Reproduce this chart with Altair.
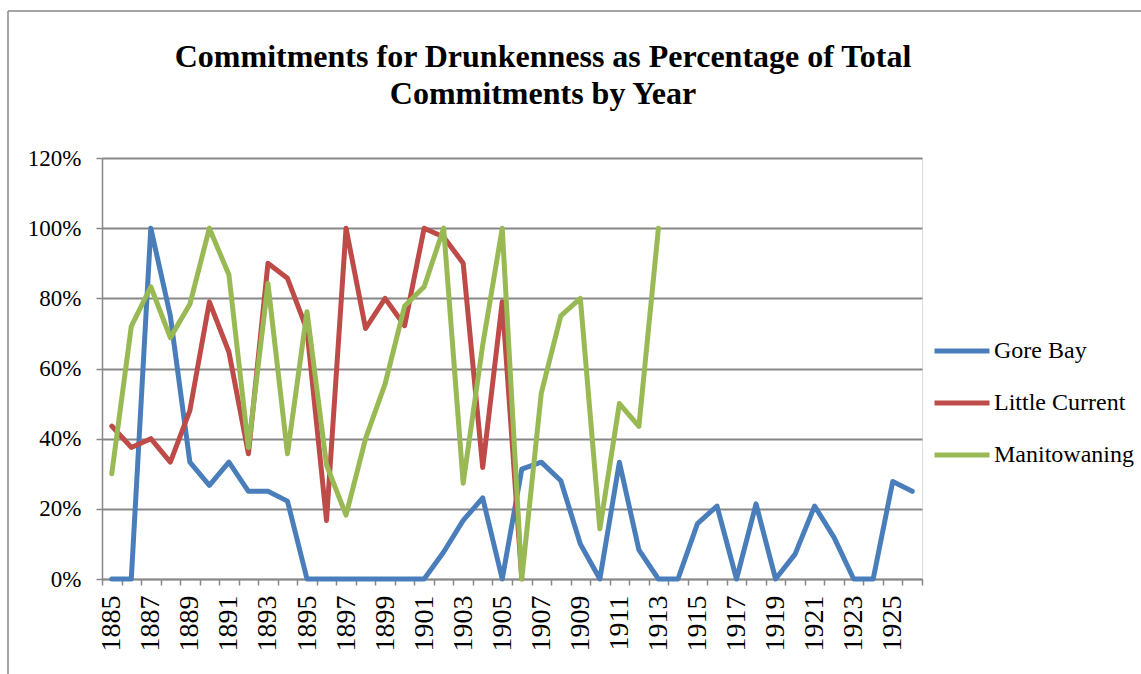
import altair as alt
import pandas as pd

years = list(range(1885, 1927))

gore_bay = [0, 0, 100, 75, 33.3, 26.7, 33.3, 25, 25, 22.2, 0, 0, 0, 0, 0, 0, 0, 7.7, 16.7, 23.1,
            0, 31.3, 33.3, 28, 10, 0, 33.3, 8.3, 0, 0, 15.8, 20.8, 0, 21.4, 0, 7.1, 20.8, 11.8,
            0, 0, 27.8, 25]
little_current = [43.6, 37.5, 40, 33.3, 48, 79, 64.7, 35.7, 90, 85.7, 71, 16.7, 100, 71.4, 80,
                  72.2, 100, 97.5, 90, 31.8, 79, 0]
manitowaning = [30, 72, 83.3, 68.8, 78.3, 100, 86.7, 37.5, 84.2, 35.7, 76.2, 32.5, 18.2, 40,
                55.6, 77.8, 83.3, 100, 27.3, 66.7, 100, 0, 53, 75, 80, 14.3, 50, 43.5, 100]

series = ["Gore Bay", "Little Current", "Manitowaning"]
colors = ["#4a7ebb", "#be4b48", "#98b954"]

rows = []
for name, vals in zip(series, [gore_bay, little_current, manitowaning]):
    for y, v in zip(years, vals):
        rows.append({"year": y, "series": name, "value": v / 100.0})
df = pd.DataFrame(rows)

GRAY = "#878787"
FONT = "Liberation Serif"

lines = alt.Chart(df).mark_line(strokeWidth=5, strokeJoin="round", strokeCap="round").encode(
    x=alt.X("year:O",
            scale=alt.Scale(type="band", paddingInner=0, paddingOuter=0, domain=years),
            bandPosition=0.5,
            axis=alt.Axis(title=None, tickBand="extent", labelAngle=270,
                          labelExpr="(toNumber(datum.value) - 1885) % 2 == 0 ? datum.label : ''",
                          labelFont=FONT, labelFontSize=28, labelColor="black",
                          labelPadding=10, tickSize=6, tickColor=GRAY, tickWidth=1.5,
                          domainColor=GRAY, domainWidth=1.5, grid=False)),
    y=alt.Y("value:Q",
            scale=alt.Scale(domain=[0, 1.2], nice=False),
            axis=alt.Axis(title=None, values=[0, 0.2, 0.4, 0.6, 0.8, 1.0, 1.2], format=".0%",
                          labelFont=FONT, labelFontSize=23, labelColor="black",
                          labelPadding=15, tickSize=6, tickColor=GRAY, tickWidth=1.5,
                          domainColor=GRAY, domainWidth=1.5,
                          gridColor=GRAY, gridWidth=2)),
    color=alt.Color("series:N",
                    scale=alt.Scale(domain=series, range=colors),
                    legend=alt.Legend(title=None, orient="none", legendX=830, legendY=163,
                                      symbolType="stroke", symbolSize=3025,
                                      symbolStrokeWidth=5, labelFont=FONT,
                                      labelFontSize=24, labelColor="black",
                                      labelOffset=2, rowPadding=10)),
)

frame_df = pd.DataFrame({"k": [0]})
frame_v = alt.Chart(frame_df).mark_rule(color=GRAY, strokeWidth=1.5).encode(
    x=alt.value(-94), y=alt.value(-147), y2=alt.value(520))
frame_h = alt.Chart(frame_df).mark_rule(color=GRAY, strokeWidth=1.5).encode(
    x=alt.value(-94), x2=alt.value(1045), y=alt.value(-147))

chart = alt.layer(frame_v, frame_h, lines).properties(
    width=820, height=421,
    autosize=alt.AutoSizeParams(type="none"),
    padding={"left": 102, "top": 158, "right": 219, "bottom": 95},
    title=alt.TitleParams(
        text=["Commitments for Drunkenness as Percentage of Total", "Commitments by Year"],
        font=FONT, fontSize=32, fontWeight="bold", color="black",
        anchor="middle", dx=31, offset=-101, lineHeight=37),
).configure_view(stroke=None).configure(background="white")

chart.save("out.html", embed_options={"renderer": "svg", "actions": False})
